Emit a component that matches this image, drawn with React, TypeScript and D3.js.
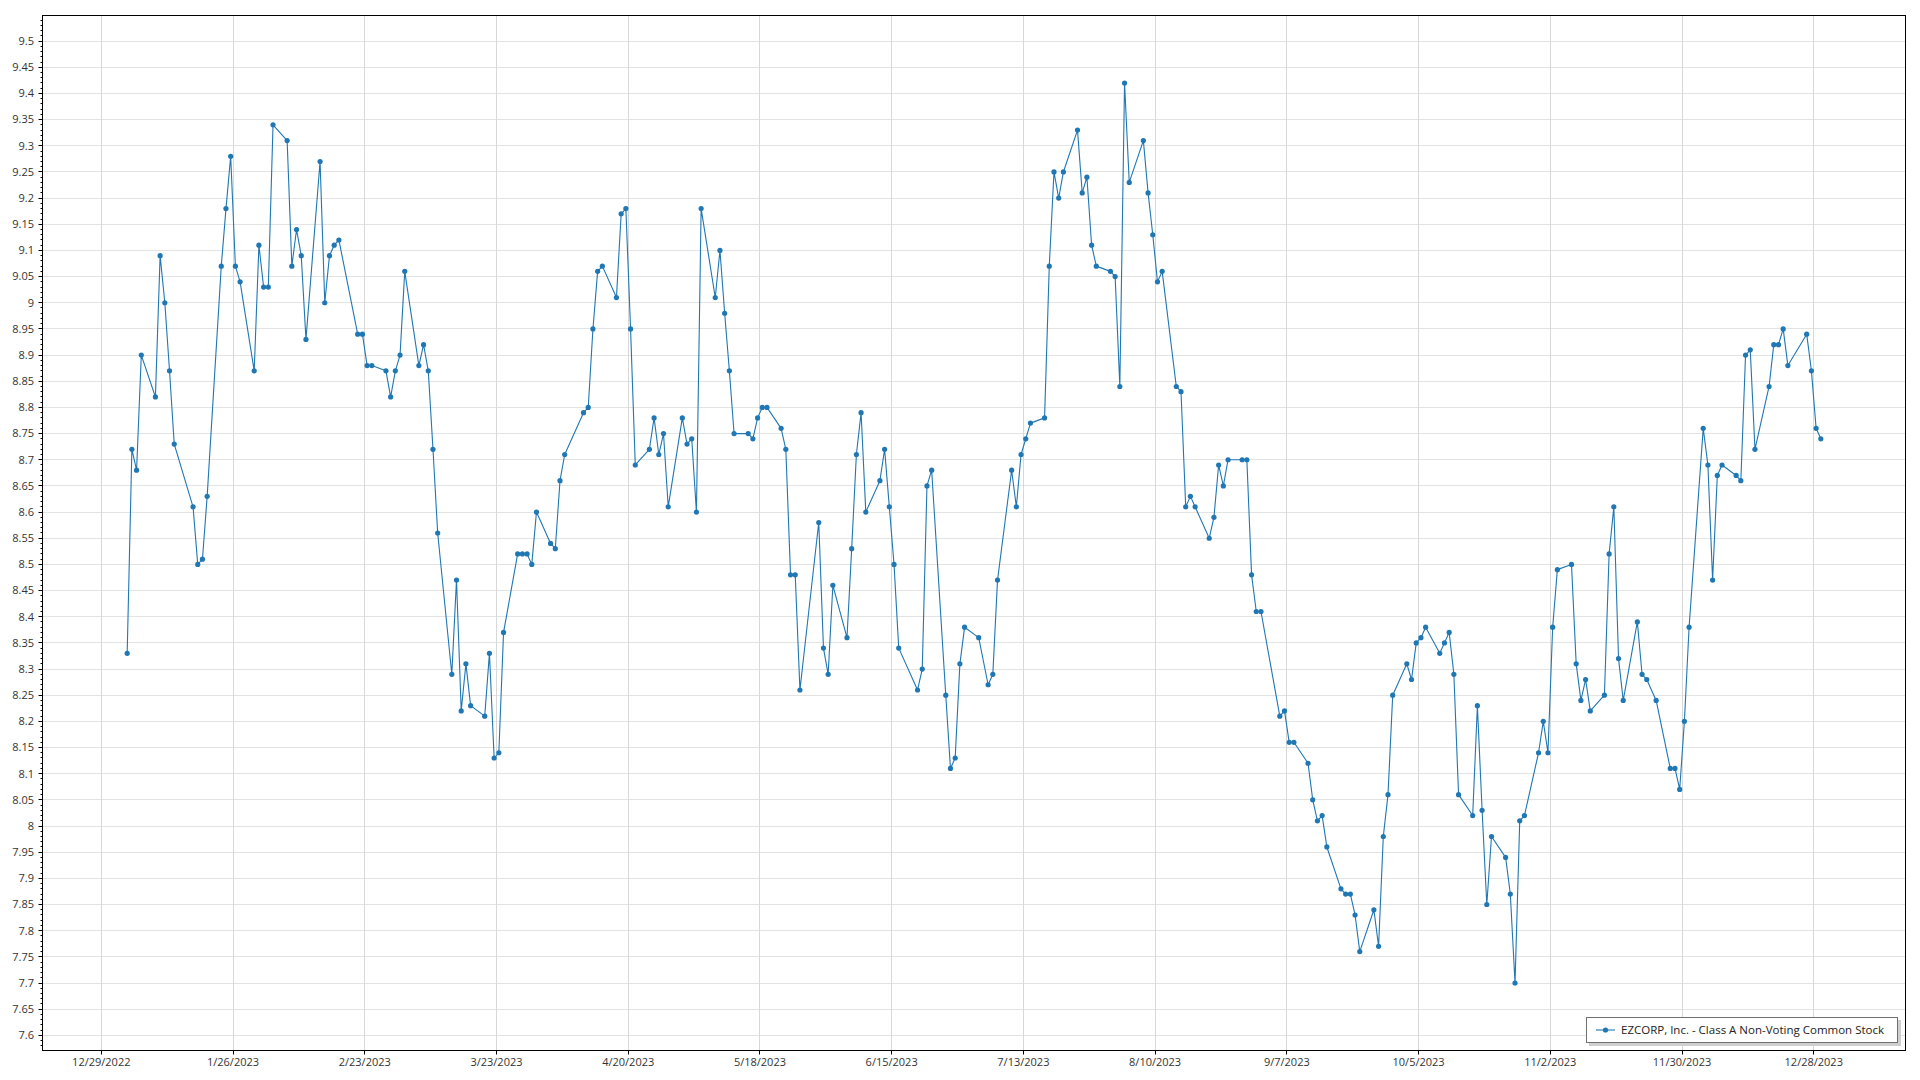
import React from "react";
import * as d3 from "d3";

const seriesName = "EZCORP, Inc. - Class A Non-Voting Common Stock";
const year = 2023;

// trading days (MM-DD) of 2023
const tradingDates = [
  "01-03","01-04","01-05","01-06","01-09","01-10","01-11","01-12","01-13","01-17","01-18","01-19","01-20","01-23","01-24","01-25","01-26","01-27","01-30","01-31",
  "02-01","02-02","02-03","02-06","02-07","02-08","02-09","02-10","02-13","02-14","02-15","02-16","02-17","02-21","02-22","02-23","02-24","02-27","02-28",
  "03-01","03-02","03-03","03-06","03-07","03-08","03-09","03-10","03-13","03-14","03-15","03-16","03-17","03-20","03-21","03-22","03-23","03-24","03-27","03-28","03-29","03-30","03-31",
  "04-03","04-04","04-05","04-06","04-10","04-11","04-12","04-13","04-14","04-17","04-18","04-19","04-20","04-21","04-24","04-25","04-26","04-27","04-28",
  "05-01","05-02","05-03","05-04","05-05","05-08","05-09","05-10","05-11","05-12","05-15","05-16","05-17","05-18","05-19","05-22","05-23","05-24","05-25","05-26","05-30","05-31",
  "06-01","06-02","06-05","06-06","06-07","06-08","06-09","06-12","06-13","06-14","06-15","06-16","06-20","06-21","06-22","06-23","06-26","06-27","06-28","06-29","06-30",
  "07-03","07-05","07-06","07-07","07-10","07-11","07-12","07-13","07-14","07-17","07-18","07-19","07-20","07-21","07-24","07-25","07-26","07-27","07-28","07-31",
  "08-01","08-02","08-03","08-04","08-07","08-08","08-09","08-10","08-11","08-14","08-15","08-16","08-17","08-18","08-21","08-22","08-23","08-24","08-25","08-28","08-29","08-30","08-31",
  "09-01","09-05","09-06","09-07","09-08","09-11","09-12","09-13","09-14","09-15","09-18","09-19","09-20","09-21","09-22","09-25","09-26","09-27","09-28","09-29",
  "10-02","10-03","10-04","10-05","10-06","10-09","10-10","10-11","10-12","10-13","10-16","10-17","10-18","10-19","10-20","10-23","10-24","10-25","10-26","10-27","10-30","10-31",
  "11-01","11-02","11-03","11-06","11-07","11-08","11-09","11-10","11-13","11-14","11-15","11-16","11-17","11-20","11-21","11-22","11-24","11-27","11-28","11-29","11-30",
  "12-01","12-04","12-05","12-06","12-07","12-08","12-11","12-12","12-13","12-14","12-15","12-18","12-19","12-20","12-21","12-22","12-26","12-27","12-28","12-29",
];

// closing prices, same order
const closePrices = [
  8.33,8.72,8.68,8.90,8.82,9.09,9.00,8.87,8.73,8.61,8.50,8.51,8.63,9.07,9.18,9.28,9.07,9.04,8.87,9.11,
  9.03,9.03,9.34,9.31,9.07,9.14,9.09,8.93,9.27,9.00,9.09,9.11,9.12,8.94,8.94,8.88,8.88,8.87,8.82,
  8.87,8.90,9.06,8.88,8.92,8.87,8.72,8.56,8.29,8.47,8.22,8.31,8.23,8.21,8.33,8.13,8.14,8.37,8.52,8.52,8.52,8.50,8.60,
  8.54,8.53,8.66,8.71,8.79,8.80,8.95,9.06,9.07,9.01,9.17,9.18,8.95,8.69,8.72,8.78,8.71,8.75,8.61,
  8.78,8.73,8.74,8.60,9.18,9.01,9.10,8.98,8.87,8.75,8.75,8.74,8.78,8.80,8.80,8.76,8.72,8.48,8.48,8.26,8.58,8.34,
  8.29,8.46,8.36,8.53,8.71,8.79,8.60,8.66,8.72,8.61,8.50,8.34,8.26,8.30,8.65,8.68,8.25,8.11,8.13,8.31,8.38,
  8.36,8.27,8.29,8.47,8.68,8.61,8.71,8.74,8.77,8.78,9.07,9.25,9.20,9.25,9.33,9.21,9.24,9.11,9.07,9.06,
  9.05,8.84,9.42,9.23,9.31,9.21,9.13,9.04,9.06,8.84,8.83,8.61,8.63,8.61,8.55,8.59,8.69,8.65,8.70,8.70,8.70,8.48,8.41,
  8.41,8.21,8.22,8.16,8.16,8.12,8.05,8.01,8.02,7.96,7.88,7.87,7.87,7.83,7.76,7.84,7.77,7.98,8.06,8.25,
  8.31,8.28,8.35,8.36,8.38,8.33,8.35,8.37,8.29,8.06,8.02,8.23,8.03,7.85,7.98,7.94,7.87,7.70,8.01,8.02,8.14,8.20,
  8.14,8.38,8.49,8.50,8.31,8.24,8.28,8.22,8.25,8.52,8.61,8.32,8.24,8.39,8.29,8.28,8.24,8.11,8.11,8.07,8.20,
  8.38,8.76,8.69,8.47,8.67,8.69,8.67,8.66,8.90,8.91,8.72,8.84,8.92,8.92,8.95,8.88,8.94,8.87,8.76,8.74,
];

const xTickLabels = [
  "12/29/2022","1/26/2023","2/23/2023","3/23/2023","4/20/2023","5/18/2023","6/15/2023",
  "7/13/2023","8/10/2023","9/7/2023","10/5/2023","11/2/2023","11/30/2023","12/28/2023",
];

const yMajorStep = 0.05;
const yMinorStep = 0.01;

const W = 1920;
const H = 1080;
const plot = { left: 42.5, top: 15.5, right: 1905.5, bottom: 1050.5 };
const font = "'Segoe UI', 'Open Sans', sans-serif";
const blue = "#1f77b4";

export default function App() {
  const parseDay = (s: string) => {
    const [m, d] = s.split("-").map(Number);
    return new Date(year, m - 1, d, 12);
  };
  const parseTick = (s: string) => {
    const [m, d, y] = s.split("/").map(Number);
    return new Date(y, m - 1, d);
  };
  const data = tradingDates.map((s, i) => ({ date: parseDay(s), value: closePrices[i] }));

  const [t0, t1] = d3.extent(data, (d) => d.date) as [Date, Date];
  const span = +t1 - +t0;
  const x = d3
    .scaleTime()
    .domain([new Date(+t0 - span * 0.05), new Date(+t1 + span * 0.05)])
    .range([plot.left, plot.right]);

  const [v0, v1] = d3.extent(data, (d) => d.value) as [number, number];
  const vPad = (v1 - v0) * 0.075;
  const y = d3.scaleLinear().domain([v0 - vPad, v1 + vPad]).range([plot.bottom, plot.top]);

  const [dLo, dHi] = y.domain();
  const majors: number[] = [];
  for (let k = Math.ceil(dLo / yMajorStep - 1e-9); k * yMajorStep <= dHi + 1e-9; k++) majors.push(+(k * yMajorStep).toFixed(2));
  const minors: number[] = [];
  for (let k = Math.ceil(dLo / yMinorStep - 1e-9); k * yMinorStep <= dHi + 1e-9; k++) minors.push(+(k * yMinorStep).toFixed(2));

  const xTicks = xTickLabels.map((s) => ({ label: s, date: parseTick(s) }));

  const line = d3
    .line<{ date: Date; value: number }>()
    .x((d) => x(d.date))
    .y((d) => y(d.value));

  const crisp = (v: number) => Math.round(v - 0.5) + 0.5;

  return (
    <svg
      width={W}
      height={H}
      style={{ position: "absolute", left: 0, top: 0, display: "block", background: "#fff" }}
      fontFamily={font}
    >
      <rect x={0} y={0} width={W} height={H} fill="#fff" />
      <g>
        {majors.map((v) => (
          <line key={"hg" + v} x1={plot.left} x2={plot.right} y1={crisp(y(v))} y2={crisp(y(v))} stroke="#e3e3e3" strokeWidth={1} />
        ))}
        {xTicks.map((t) => (
          <line key={"vg" + t.label} x1={crisp(x(t.date))} x2={crisp(x(t.date))} y1={plot.top} y2={plot.bottom} stroke="#d8d8d8" strokeWidth={1} />
        ))}
      </g>
      <path d={line(data) || ""} fill="none" stroke={blue} strokeWidth={1.1} strokeLinejoin="round" />
      <g fill={blue}>
        {data.map((d, i) => (
          <circle key={i} cx={x(d.date)} cy={y(d.value)} r={2.6} />
        ))}
      </g>
      <rect x={plot.left} y={plot.top} width={plot.right - plot.left} height={plot.bottom - plot.top} fill="none" stroke="#000" strokeWidth={1} />
      <g stroke="#000" strokeWidth={1}>
        {minors.map((v) => (
          <line key={"mt" + v} x1={plot.left - 2} x2={plot.left} y1={crisp(y(v))} y2={crisp(y(v))} />
        ))}
        {majors.map((v) => (
          <line key={"Mt" + v} x1={plot.left - 4} x2={plot.left} y1={crisp(y(v))} y2={crisp(y(v))} />
        ))}
        {xTicks.map((t) => (
          <line key={"xt" + t.label} x1={crisp(x(t.date))} x2={crisp(x(t.date))} y1={plot.bottom} y2={plot.bottom + 4} />
        ))}
      </g>
      <g fontSize={11} fill="#333">
        {majors.map((v) => (
          <text key={"yl" + v} x={34} y={y(v)} dy="0.35em" textAnchor="end">
            {String(v)}
          </text>
        ))}
        {xTicks.map((t) => (
          <text key={"xl" + t.label} x={x(t.date)} y={1066} textAnchor="middle">
            {t.label}
          </text>
        ))}
      </g>
      <g>
        <rect x={1589} y={1020} width={312} height={26} fill="#cfcfcf" />
        <rect x={1586.5} y={1017.5} width={311} height={25} fill="#fff" stroke="#707070" strokeWidth={1} />
        <line x1={1596} x2={1615} y1={1030} y2={1030} stroke={blue} strokeWidth={1.1} />
        <circle cx={1605.5} cy={1030} r={2.6} fill={blue} />
        <text x={1621} y={1030} dy="0.35em" fontSize={11.5} fill="#222">
          {seriesName}
        </text>
      </g>
    </svg>
  );
}
